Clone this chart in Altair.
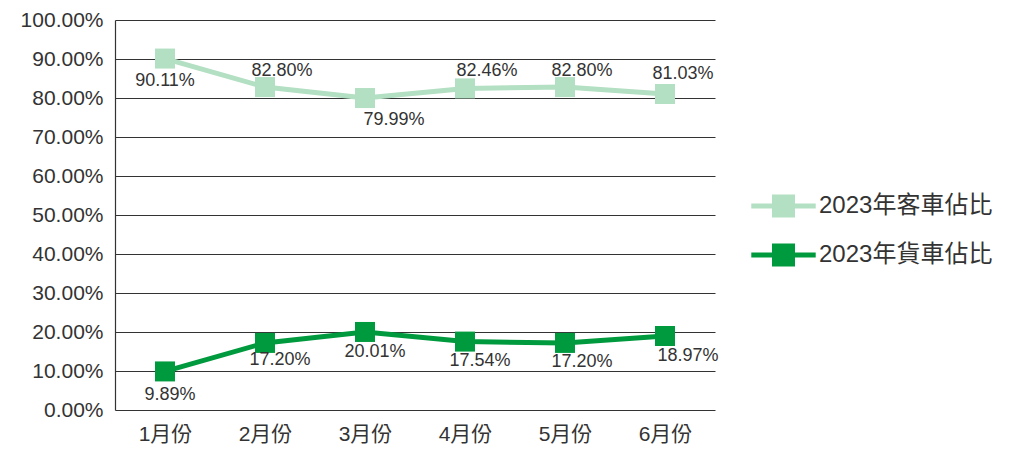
import altair as alt
import pandas as pd

months = ["1月份", "2月份", "3月份", "4月份", "5月份", "6月份"]
series_names = ["2023年客車佔比", "2023年貨車佔比"]
passenger = [0.9011, 0.8280, 0.7999, 0.8246, 0.8280, 0.8103]
freight = [0.0989, 0.1720, 0.2001, 0.1754, 0.1720, 0.1897]
colors = ["#b3dfc2", "#009a3e"]

# label offsets (style only)
pass_dx = [0, 17, 29, 22, 17, 18]
pass_dy = [22, -16, 22, -17, -16, -20]
frt_dx = [5, 15, 10, 15, 17, 23]
frt_dy = [24, 17, 20, 19, 19, 20]

rows = []
for i, m in enumerate(months):
    rows.append({"month": m, "series": series_names[0], "value": passenger[i], "idx": i,
                 "dx": pass_dx[i], "dy": pass_dy[i]})
for i, m in enumerate(months):
    rows.append({"month": m, "series": series_names[1], "value": freight[i], "idx": i + 6,
                 "dx": frt_dx[i], "dy": frt_dy[i]})
df = pd.DataFrame(rows)

FONT = "Liberation Sans, Noto Sans CJK TC, sans-serif"

x = alt.X("month:N", sort=months, title=None,
          scale=alt.Scale(type="point", padding=0.5),
          axis=alt.Axis(labelAngle=0, labelFontSize=21, labelColor="#333333", labelFont=FONT,
                        ticks=False, domain=False, labelPadding=13, grid=False))
y = alt.Y("value:Q", title=None,
          scale=alt.Scale(domain=[0, 1], nice=False),
          axis=alt.Axis(format=".2%", values=[i / 10 for i in range(11)], labelFontSize=21,
                        labelColor="#333333", labelFont=FONT, ticks=False, labelPadding=12,
                        grid=True, gridColor="#333333", gridWidth=1, domain=True,
                        domainColor="#333333", domainWidth=1.2))
color_scale = alt.Scale(domain=series_names, range=colors)

legend_symbol = "M-2.8,-0.22H2.8V0.22H-2.8Z M-1,-1H1V1H-1Z"
legend = alt.Legend(title=None, orient="none", legendX=656.5, legendY=174,
                    symbolType=legend_symbol, symbolSize=529,
                    symbolStrokeWidth=0, symbolOpacity=1,
                    labelFontSize=24, labelColor="#333333", labelFont=FONT,
                    rowPadding=25, labelOffset=23.5, labelLimit=400)
color = alt.Color("series:N", scale=color_scale, sort=series_names, legend=legend)

base = alt.Chart(df)
line = base.mark_line(strokeWidth=5).encode(x=x, y=y, color=color)
points = base.mark_square(size=400, opacity=1, filled=True).encode(x=x, y=y, color=color)

layers = [line, points]
for r in rows:
    t = alt.Chart(df).transform_filter(alt.datum.idx == r["idx"]).mark_text(
        fontSize=18, font=FONT, color="#333333", dx=r["dx"], dy=r["dy"], baseline="middle"
    ).encode(x=x, y=y, text=alt.Text("value:Q", format=".2%"))
    layers.append(t)

chart = alt.layer(*layers).properties(
    width=600, height=390,
    autosize=alt.AutoSizeParams(type="none"),
    padding={"left": 107, "top": 12, "right": 296, "bottom": 34},
).configure_view(stroke=None)

chart.save("out.html", embed_options={"renderer": "svg", "actions": False})
